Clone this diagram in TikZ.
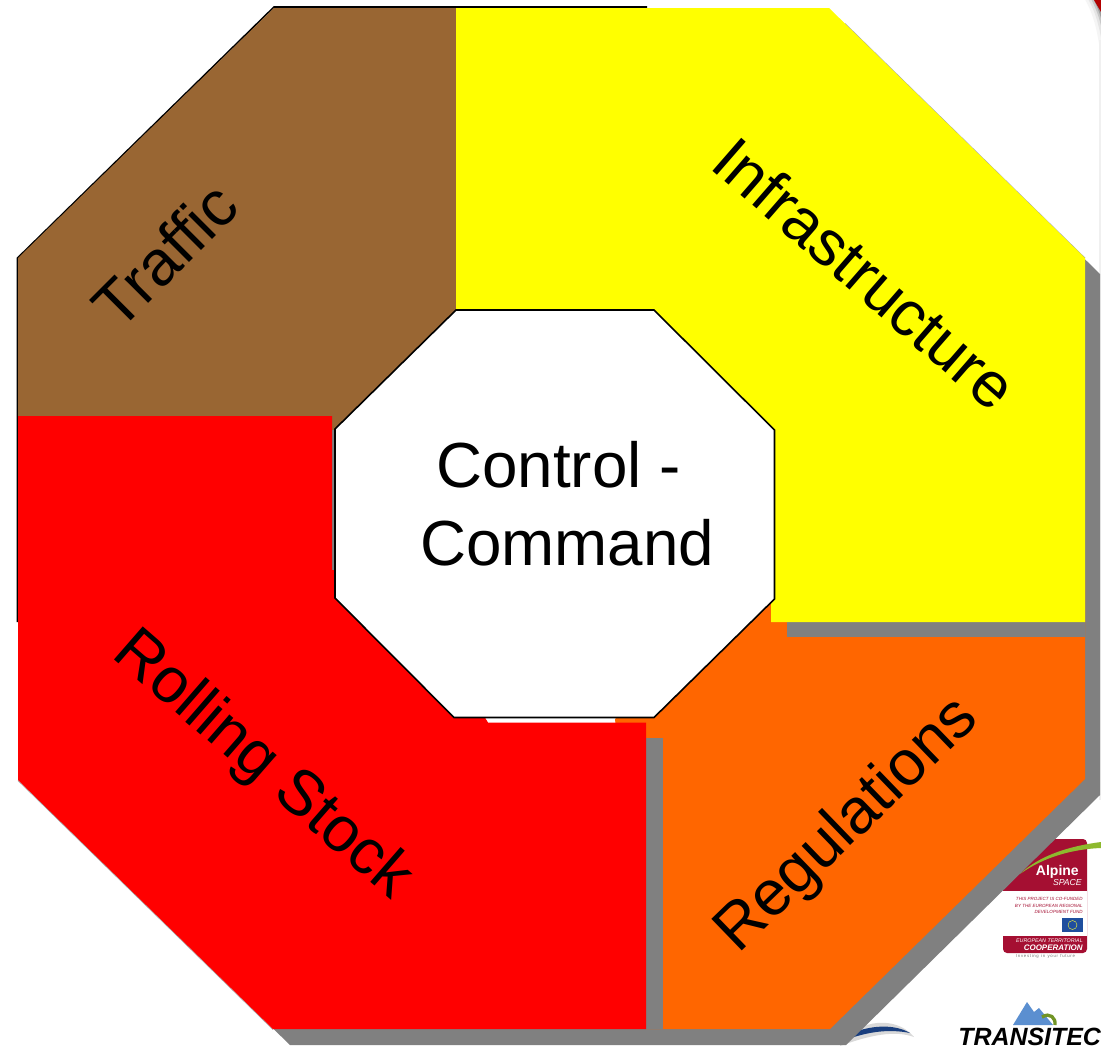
\documentclass[tikz,border=0pt]{standalone}
\usepackage{fontspec}
\setmainfont{Liberation Sans}
\definecolor{brownseg}{HTML}{996633}
\definecolor{orangeseg}{HTML}{FF6600}
\definecolor{yellowseg}{HTML}{FFFF00}
\definecolor{redseg}{HTML}{FF0000}
\definecolor{shadowgray}{HTML}{808080}
\definecolor{alpred}{HTML}{A50F32}
\definecolor{alpgreen}{HTML}{8DB92E}
\definecolor{euflag}{HTML}{1F4E9E}
\definecolor{mountain}{HTML}{5B8FD0}
\tikzset{
  seglabel/.style={font=\fontsize{47.8}{57}\selectfont,text=black,inner sep=0pt,anchor=center},
  tiny/.style={inner sep=0pt,anchor=east,font=\fontsize{3.4}{4}\selectfont\itshape,text=alpred}
}
\begin{document}
\begin{tikzpicture}[x=0.75pt,y=-0.75pt]
\useasboundingbox (0,0) rectangle (1101,1046);
\clip (0,0) rectangle (1101,1046);
\fill[white] (0,0) rectangle (1101,1046);

% corner of the slide frame
\foreach \w/\c in {22/black!4,16/black!10,11/black!22,7/black!38}
  \draw[line width=\w*0.75pt,color=\c] (1090,-14) .. controls (1098,0) and (1108,15) .. (1112,60);
\fill[black!6] (1099,40) rectangle (1101,800);
\fill[redseg!70!black] (1094,0) -- (1101,0) -- (1101,12) -- cycle;

% Alpine Space logo
\fill[alpred,rounded corners=3pt] (1003,839) rectangle (1087,953);
\fill[white] (1003,891) rectangle (1087,936);
\fill[alpgreen] (1020,874) .. controls (1040,855) and (1070,846) .. (1101,842) -- (1101,848) .. controls (1075,849) and (1045,856) .. (1020,874) -- cycle;
\node[inner sep=0pt,anchor=east,text=white,font=\fontsize{10.5}{12}\selectfont\bfseries] (alp) at (1079,872) {Alpine};
\node[inner sep=0pt,anchor=east,text=white,font=\fontsize{6.5}{7}\selectfont\itshape] (spc) at (1082,883) {SPACE};
\node[tiny] (t1) at (1083,899) {THIS PROJECT IS CO-FUNDED};
\node[tiny] (t2) at (1083,906) {BY THE EUROPEAN REGIONAL};
\node[tiny] (t3) at (1083,912) {DEVELOPMENT FUND};
\fill[euflag] (1062,918) rectangle (1083,932);
\draw[yellowseg!80!white,line width=0.3pt] (1072.5,925) circle (4.5);
\node[tiny,text=white,font=\fontsize{4}{5}\selectfont\itshape] (t4) at (1083,941) {EUROPEAN TERRITORIAL};
\node[tiny,text=white,font=\fontsize{6}{7}\selectfont\bfseries\itshape] (t5) at (1083,948) {COOPERATION};
\node[inner sep=0pt,text=black!55,font=\fontsize{3.2}{4}\selectfont] (t6) at (1045.5,956.5) {I\,n\,v\,e\,s\,t\,i\,n\,g\ \ i\,n\ \ y\,o\,u\,r\ \ f\,u\,t\,u\,r\,e};

% Transitec logo
\fill[mountain] (1013,1025) -- (1027,1002) -- (1034,1012) -- (1039,1008) -- (1053,1025) -- cycle;
\draw[alpgreen!80!black,line width=2.5pt] (1042,1017) .. controls (1050,1012) and (1056,1018) .. (1055,1025);
\node[inner sep=0pt,anchor=base west,font=\fontsize{18.7}{20}\selectfont\bfseries\itshape] (trans) at (958,1045) {TRANSITEC};

% third logo, mostly hidden
\fill[black!15] (840,1040) .. controls (870,1015) and (900,1020) .. (914,1037) .. controls (895,1030) and (870,1035) .. (840,1046) -- cycle;
\fill[euflag!80!black] (845,1036) .. controls (870,1024) and (895,1024) .. (910,1033) .. controls (890,1029) and (870,1031) .. (845,1040) -- cycle;

% overall shadow
\fill[shadowgray] (290,24) -- (845,24) -- (1100,274) -- (1100,795) -- (846,1045) -- (290,1045) -- (34,796) -- (34,274) -- cycle;
\draw[shadowgray!70,line width=0.6pt] (845,23.5) -- (1085,258);
\draw[shadowgray!70,line width=0.6pt] (18,780.5) -- (273,1029.5);

% outer outline
\draw[black,line width=1.2pt,line join=miter] (17.5,622) -- (17.5,258) -- (274,7) -- (647,7);

% gap under the centre octagon
\fill[white] (480,700) rectangle (620,723);

% brown
\fill[brownseg] (18,258) -- (274,8) -- (456,8) -- (456,400) -- (340,440) -- (18,440) -- cycle;
% orange
\fill[orangeseg] (615,719) -- (775,580) -- (1085,580) -- (1085,779) -- (830,1029) -- (663,1029) -- (646,1029) -- cycle;
% shadows of red and yellow
\fill[shadowgray] (646,738) rectangle (663,1029);
\fill[shadowgray] (787,622) rectangle (1085,637);
\fill[shadowgray] (332,430) rectangle (336,572);
% red
\fill[redseg] (18,416) -- (332,416) -- (332,570) -- (336,570) -- (336,600) -- (455,716) -- (484,716) -- (488,722.5) -- (646,722.5) -- (646,1029) -- (273,1029) -- (18,780) -- cycle;
% yellow
\fill[yellowseg] (456,8) -- (829,8) -- (1085,258) -- (1085,622) -- (771,622) -- (771,500) -- (456,310) -- cycle;

% centre octagon
\draw[black,line width=1.2pt,fill=white,line join=miter] (456,310) -- (654,310) -- (774.5,430) -- (774.5,599) -- (654,717.5) -- (454,717.5) -- (335,598) -- (335,429) -- cycle;

\node[seglabel] (cc1) at (558.5,465) {Control -};
\node[seglabel] (cc2) at (567,543) {Command};
\node[seglabel,rotate=45] (traffic) at (165,255) {Traffic};
\node[seglabel,rotate=-41] (infra) at (865,273) {Infrastructure};
\node[seglabel,rotate=-41] (rolling) at (262,766) {Rolling Stock};
\node[seglabel,rotate=44] (regs) at (848,826) {Regulations};
\end{tikzpicture}
\end{document}
